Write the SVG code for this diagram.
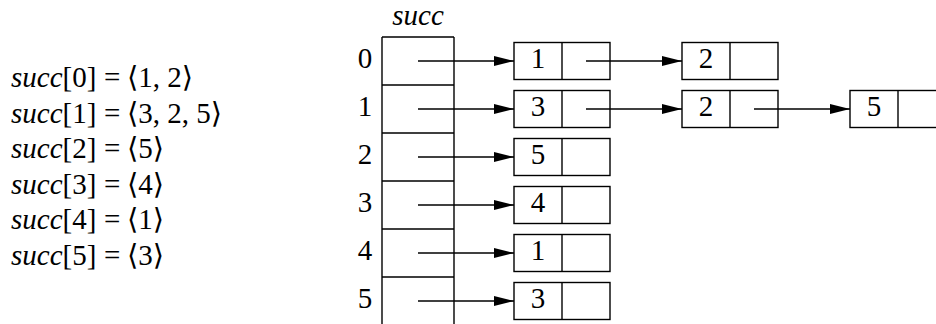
<svg xmlns="http://www.w3.org/2000/svg" width="936" height="324" viewBox="0 0 936 324">
<defs>
<style>
text{font-family:"Liberation Serif","DejaVu Serif",serif;font-size:29px;fill:#000}
.it{font-style:italic}
.c{text-anchor:middle}
.box{fill:none;stroke:#000;stroke-width:1.4}
.ln{stroke:#000;stroke-width:1.4;fill:none}
</style>
<marker id="ah" markerUnits="userSpaceOnUse" markerWidth="21" markerHeight="11" refX="20" refY="5.5" orient="auto">
<path d="M0,0.5 L20,5.5 L0,10.5 Z" fill="#000"/>
</marker>
</defs>
<g id="equations">
<text x="11" y="87"><tspan class="it">succ</tspan>[0]<tspan x="104">=</tspan><tspan x="127">⟨1, 2⟩</tspan></text>
<text x="11" y="122.5"><tspan class="it">succ</tspan>[1]<tspan x="104">=</tspan><tspan x="127">⟨3, 2, 5⟩</tspan></text>
<text x="11" y="158"><tspan class="it">succ</tspan>[2]<tspan x="104">=</tspan><tspan x="127">⟨5⟩</tspan></text>
<text x="11" y="193.5"><tspan class="it">succ</tspan>[3]<tspan x="104">=</tspan><tspan x="127">⟨4⟩</tspan></text>
<text x="11" y="229"><tspan class="it">succ</tspan>[4]<tspan x="104">=</tspan><tspan x="127">⟨1⟩</tspan></text>
<text x="11" y="264.5"><tspan class="it">succ</tspan>[5]<tspan x="104">=</tspan><tspan x="127">⟨3⟩</tspan></text>
</g>
<g id="array">
<text class="it c" x="418" y="25">succ</text>
<path class="ln" d="M382,37 V324 M454,37 V324 M382,37 H454 M382,85 H454 M382,133 H454 M382,181 H454 M382,229 H454 M382,277 H454"/>
<text class="c" x="365" y="68">0</text>
<text class="c" x="365" y="116">1</text>
<text class="c" x="365" y="164">2</text>
<text class="c" x="365" y="212">3</text>
<text class="c" x="365" y="260">4</text>
<text class="c" x="365" y="308">5</text>
</g>
<g id="n0a"><rect class="box" x="514" y="42.5" width="96" height="37"/><path class="ln" d="M562,42.5 V79.5"/><text class="c" x="538" y="68">1</text></g>
<g id="n0b"><rect class="box" x="682" y="42.5" width="96" height="37"/><path class="ln" d="M730,42.5 V79.5"/><text class="c" x="706" y="68">2</text></g>
<g id="n1a"><rect class="box" x="514" y="90.5" width="96" height="37"/><path class="ln" d="M562,90.5 V127.5"/><text class="c" x="538" y="116">3</text></g>
<g id="n1b"><rect class="box" x="682" y="90.5" width="96" height="37"/><path class="ln" d="M730,90.5 V127.5"/><text class="c" x="706" y="116">2</text></g>
<g id="n1c"><rect class="box" x="850" y="90.5" width="96" height="37"/><path class="ln" d="M898,90.5 V127.5"/><text class="c" x="874" y="116">5</text></g>
<g id="n2"><rect class="box" x="514" y="138.5" width="96" height="37"/><path class="ln" d="M562,138.5 V175.5"/><text class="c" x="538" y="164">5</text></g>
<g id="n3"><rect class="box" x="514" y="186.5" width="96" height="37"/><path class="ln" d="M562,186.5 V223.5"/><text class="c" x="538" y="212">4</text></g>
<g id="n4"><rect class="box" x="514" y="234.5" width="96" height="37"/><path class="ln" d="M562,234.5 V271.5"/><text class="c" x="538" y="260">1</text></g>
<g id="n5"><rect class="box" x="514" y="282.5" width="96" height="37"/><path class="ln" d="M562,282.5 V319.5"/><text class="c" x="538" y="308">3</text></g>
<g id="connectors">
<path class="ln" marker-end="url(#ah)" d="M418,61 H514"/>
<path class="ln" marker-end="url(#ah)" d="M418,109 H514"/>
<path class="ln" marker-end="url(#ah)" d="M418,157 H514"/>
<path class="ln" marker-end="url(#ah)" d="M418,205 H514"/>
<path class="ln" marker-end="url(#ah)" d="M418,253 H514"/>
<path class="ln" marker-end="url(#ah)" d="M418,301 H514"/>
<path class="ln" marker-end="url(#ah)" d="M586,61 H682"/>
<path class="ln" marker-end="url(#ah)" d="M586,109 H682"/>
<path class="ln" marker-end="url(#ah)" d="M754,109 H850"/>
</g>
</svg>
